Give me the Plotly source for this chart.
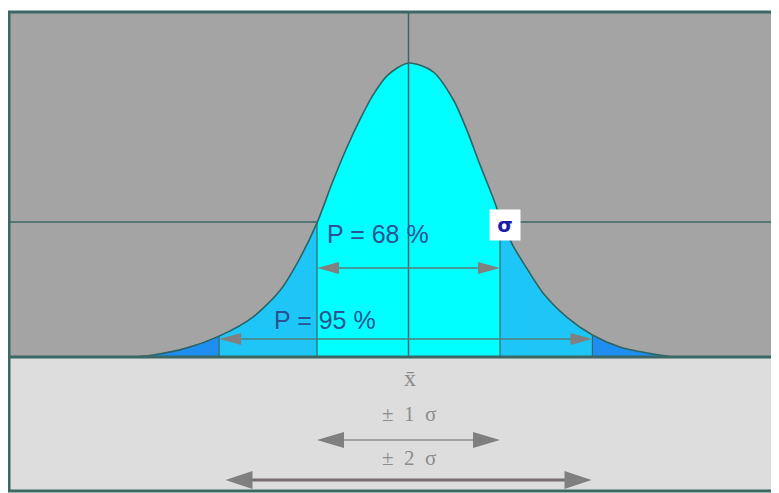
import plotly.graph_objects as go

# ---- data (x in sigma units, y relative to peak) ----
CURVE_X = [-3.01, -2.79, -2.42, -2.07, -1.70, -1.40, -1.18, -1.00, -0.83, -0.67,
           -0.53, -0.39, -0.23, 0.00, 0.27, 0.49, 0.64, 0.78, 0.92, 1.00,
           1.14, 1.30, 1.47, 1.73, 2.01, 2.31, 2.67, 2.89]
CURVE_Y = [0.000, 0.007, 0.031, 0.071, 0.136, 0.228, 0.340, 0.456, 0.595, 0.715,
           0.808, 0.890, 0.958, 1.000, 0.970, 0.875, 0.770, 0.655, 0.545, 0.478,
           0.380, 0.298, 0.218, 0.136, 0.075, 0.034, 0.010, 0.000]
BOUNDS = [-2.07, -1.00, 1.00, 2.01]          # -2s, -1s, +1s, +2s as drawn
PROB_LABELS = ["P = 68 %", "P = 95 %"]
SIGMA_LABEL = "σ"
MEAN_LABEL = "x\u0304"
SPAN_LABELS = ["±\u00a0\u00a01\u00a0\u00a0σ", "±\u00a0\u00a02\u00a0\u00a0σ"]
SPAN_MULT = [1, 2]
GRID_Y = 0.459

# ---- styling ----
W, H = 771, 485                 # page body adds an 8px offset
ML, MR, MT, MB = 1, 1, 4, 2
XR = [-4.366, 4.038]
YR = [-0.4558, 1.1735]
PXX = (W - ML - MR) / (XR[1] - XR[0])
PXY = (H - MT - MB) / (YR[1] - YR[0])
TEAL = "#3b6764"
BAND_COLORS = ["#1e8ff0", "#1ec6f7", "#00ffff", "#1ec6f7", "#1e8ff0"]

fig = go.Figure()

# fills per band
idx = [CURVE_X.index(b) for b in BOUNDS]
cuts = [0] + idx + [len(CURVE_X) - 1]
for k in range(5):
    a, b = cuts[k], cuts[k + 1]
    fig.add_trace(go.Scatter(
        x=CURVE_X[a:b + 1], y=CURVE_Y[a:b + 1], mode="lines",
        line=dict(width=0, shape="spline", smoothing=0.8),
        fill="tozeroy", fillcolor=BAND_COLORS[k], hoverinfo="skip", showlegend=False))

# outline
fig.add_trace(go.Scatter(x=CURVE_X, y=CURVE_Y, mode="lines",
                         line=dict(color="#2c6466", width=1.6, shape="spline", smoothing=0.8),
                         hoverinfo="skip", showlegend=False))

shapes = []
# lower panel
shapes.append(dict(type="rect", xref="paper", yref="y", x0=0, x1=1, y0=YR[0], y1=0,
                   fillcolor="#dddddd", line_width=0, layer="below"))
# horizontal grid line (behind curve)
shapes.append(dict(type="line", xref="paper", yref="y", x0=0, x1=1, y0=GRID_Y, y1=GRID_Y,
                   line=dict(color=TEAL, width=1.5), layer="below"))
# centre line
shapes.append(dict(type="line", x0=0, x1=0, y0=0, y1=YR[1], line=dict(color=TEAL, width=1.5)))
# boundary lines
for i, b in zip(idx, BOUNDS):
    shapes.append(dict(type="line", x0=b, x1=b, y0=0, y1=CURVE_Y[i],
                       line=dict(color=TEAL, width=1.2)))


def arrow(x0, x1, y, shaft_color, shaft_w, head_color, hl_px, hh_px):
    hl = hl_px / PXX
    hh = hh_px / PXY
    out = [dict(type="line", x0=x0 + hl * 0.5, x1=x1 - hl * 0.5, y0=y, y1=y,
                line=dict(color=shaft_color, width=shaft_w))]
    out.append(dict(type="path", path=f"M {x0},{y} L {x0 + hl},{y + hh} L {x0 + hl},{y - hh} Z",
                    fillcolor=head_color, line_width=0))
    out.append(dict(type="path", path=f"M {x1},{y} L {x1 - hl},{y + hh} L {x1 - hl},{y - hh} Z",
                    fillcolor=head_color, line_width=0))
    return out


shapes += arrow(BOUNDS[1], BOUNDS[2], 0.303, "#557c7c", 1.5, "#808080", 22, 6)
shapes += arrow(BOUNDS[0], BOUNDS[3], 0.061, "#557c7c", 1.5, "#808080", 22, 6)
shapes += arrow(-SPAN_MULT[0], SPAN_MULT[0], -0.282, "#a2a2a2", 2, "#7f7f7f", 27, 8)
shapes += arrow(-SPAN_MULT[1], SPAN_MULT[1], -0.418, "#786e6e", 3, "#7f7f7f", 27, 9)

# divider and frame
shapes.append(dict(type="line", xref="paper", yref="y", x0=0, x1=1, y0=0, y1=0,
                   line=dict(color=TEAL, width=3)))
shapes.append(dict(type="rect", xref="paper", yref="paper", x0=0, x1=1, y0=0, y1=1,
                   line=dict(color=TEAL, width=3)))

annotations = [
    dict(x=-0.913, y=0.418, text=PROB_LABELS[0], xanchor="left", yanchor="middle", showarrow=False,
         font=dict(family="Liberation Sans, Arial", size=25, color="#2b5292")),
    dict(x=-1.49, y=0.126, text=PROB_LABELS[1], xanchor="left", yanchor="middle", showarrow=False,
         font=dict(family="Liberation Sans, Arial", size=25, color="#2b5292")),
    dict(x=1.055, y=0.449, text="<b>" + SIGMA_LABEL + "</b>", showarrow=False,
         bgcolor="white", width=24, height=24, borderpad=3,
         font=dict(family="DejaVu Sans", size=20, color="#1c1ca8")),
    dict(x=0.02, y=-0.07, text=MEAN_LABEL, showarrow=False,
         font=dict(family="Liberation Serif", size=24, color="#8a8a8a")),
    dict(x=0.0, y=-0.194, text=SPAN_LABELS[0], showarrow=False,
         font=dict(family="Liberation Serif", size=21, color="#8c8c8c")),
    dict(x=0.0, y=-0.344, text=SPAN_LABELS[1], showarrow=False,
         font=dict(family="Liberation Serif", size=21, color="#8c8c8c")),
]

fig.update_layout(
    width=W, height=H,
    margin=dict(l=ML, r=MR, t=MT, b=MB, pad=0),
    paper_bgcolor="white", plot_bgcolor="#a4a4a4",
    xaxis=dict(range=XR, visible=False, fixedrange=True),
    yaxis=dict(range=YR, visible=False, fixedrange=True),
    shapes=shapes, annotations=annotations, showlegend=False,
)

fig.write_html("out.html")
